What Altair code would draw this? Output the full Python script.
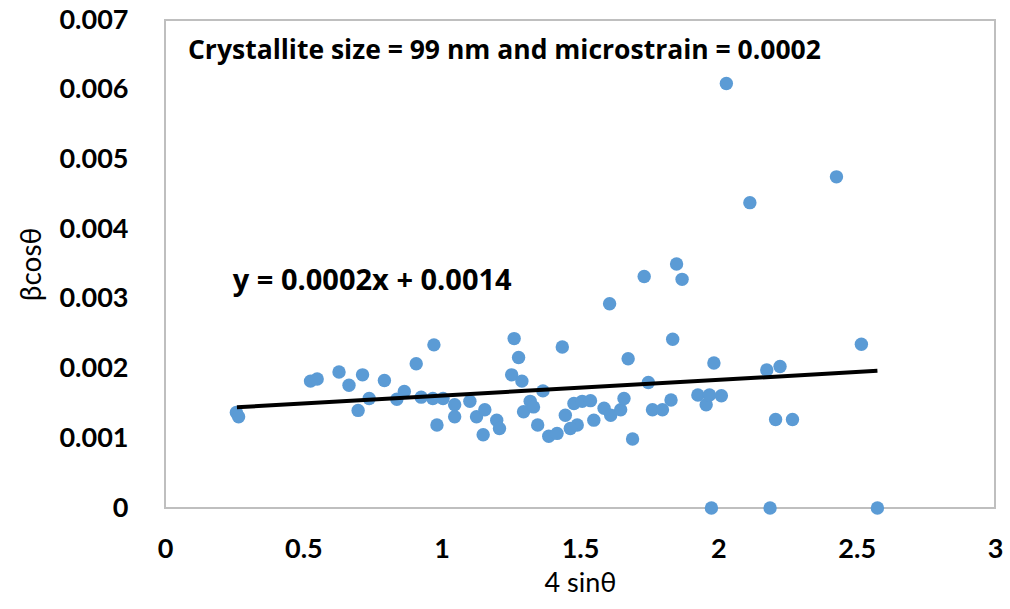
import altair as alt
import pandas as pd

# 4 sinθ values
x_vals = [0.258, 0.266, 0.526, 0.550, 0.629, 0.665, 0.714, 0.698, 0.738, 0.793,
          0.838, 0.865, 0.908, 0.972, 0.926, 0.968, 1.005, 0.983, 1.047, 1.047,
          1.102, 1.126, 1.156, 1.150, 1.199, 1.209, 1.262, 1.278, 1.253, 1.290,
          1.296, 1.320, 1.332, 1.366, 1.347, 1.387, 1.417, 1.436, 1.447, 1.478,
          1.490, 1.465, 1.508, 1.538, 1.550, 1.587, 1.611, 1.647, 1.659, 1.674,
          1.690, 1.747, 1.762, 1.798, 1.829, 1.835, 1.926, 1.956, 1.968, 2.011,
          1.984, 2.175, 2.223, 2.207, 2.268, 2.517, 1.975, 2.187, 2.575, 2.029,
          2.427, 2.114, 1.849, 1.869, 1.732, 1.607]
# βcosθ values
y_vals = [0.00137, 0.00131, 0.00182, 0.00185, 0.00195, 0.00176, 0.00191, 0.00140, 0.00157, 0.00183,
          0.00156, 0.00167, 0.00207, 0.00234, 0.00159, 0.00157, 0.00157, 0.00119, 0.00148, 0.00131,
          0.00153, 0.00131, 0.00141, 0.00105, 0.00126, 0.00114, 0.00243, 0.00216, 0.00191, 0.00182,
          0.00138, 0.00153, 0.00145, 0.00168, 0.00119, 0.00103, 0.00107, 0.00231, 0.00133, 0.00150,
          0.00119, 0.00114, 0.00153, 0.00154, 0.00126, 0.00143, 0.00133, 0.00141, 0.00157, 0.00214,
          0.00099, 0.00180, 0.00141, 0.00141, 0.00155, 0.00242, 0.00162, 0.00148, 0.00162, 0.00161,
          0.00208, 0.00198, 0.00203, 0.00127, 0.00127, 0.00235, 0.0, 0.0, 0.0, 0.00609,
          0.00475, 0.00438, 0.00350, 0.00328, 0.00332, 0.00293]

# linear trend line
trend_slope = 0.000226
trend_intercept = 0.001386
trend_x = [0.26, 2.575]

x_ticks = [0, 0.5, 1, 1.5, 2, 2.5, 3]
y_ticks = [0, 0.001, 0.002, 0.003, 0.004, 0.005, 0.006, 0.007]

ann_texts = ["Crystallite size = 99 nm and microstrain = 0.0002", "y = 0.0002x + 0.0014"]
ann_x = [0.083, 0.245]
ann_y = [0.00656, 0.00326]
ann_size = [26.5, 29]

pts = pd.DataFrame({"x": x_vals, "y": y_vals})
trend = pd.DataFrame({"x": trend_x, "y": [trend_slope * v + trend_intercept for v in trend_x]})
ann = pd.DataFrame({"x": ann_x, "y": ann_y, "t": ann_texts, "s": ann_size})

FONT = "Lato"
ANN_FONT = "Open Sans"

xscale = alt.Scale(domain=[0, 3], nice=False, zero=False)
yscale = alt.Scale(domain=[0, 0.007], nice=False)

xaxis = alt.Axis(values=x_ticks, format="~g", grid=False, ticks=False, domain=False,
                 labelFlush=False, labelOverlap=False,
                 labelFont=FONT, labelFontSize=27, labelFontWeight="bold", labelColor="#000",
                 labelPadding=28, title="4 sinθ", titleFont=FONT, titleFontSize=27,
                 titleFontWeight="normal", titleColor="#000", titlePadding=8)
yaxis = alt.Axis(values=y_ticks, grid=False, ticks=False, domain=False,
                 labelFlush=False, labelOverlap=False,
                 labelExpr="datum.value == 0 ? '0' : format(datum.value, '.3f')",
                 labelFont=FONT, labelFontSize=27, labelFontWeight="bold", labelColor="#000",
                 labelPadding=37, title="βcosθ", titleFont=FONT, titleFontSize=28,
                 titleFontWeight="normal", titleColor="#000", titlePadding=12)

points = alt.Chart(pts).mark_circle(size=180, color="#5B9BD5", opacity=1).encode(
    x=alt.X("x:Q", scale=xscale, axis=xaxis),
    y=alt.Y("y:Q", scale=yscale, axis=yaxis),
)

line = alt.Chart(trend).mark_line(color="black", strokeWidth=4).encode(
    x=alt.X("x:Q", scale=xscale),
    y=alt.Y("y:Q", scale=yscale),
)

text = alt.Chart(ann).mark_text(align="left", baseline="middle", font=ANN_FONT,
                                fontWeight="bold", color="black").encode(
    x=alt.X("x:Q", scale=xscale),
    y=alt.Y("y:Q", scale=yscale),
    text="t:N",
    size=alt.Size("s:Q", scale=None, legend=None),
)

chart = (points + line + text).properties(
    width=830, height=488,
    autosize=alt.AutoSizeParams(type="none"),
    padding={"left": 165, "top": 20, "right": 15, "bottom": 101},
    background="white",
).configure_view(stroke="#BFBFBF", strokeWidth=2)

chart.save("out.html", embed_options={"renderer": "svg", "actions": False})
